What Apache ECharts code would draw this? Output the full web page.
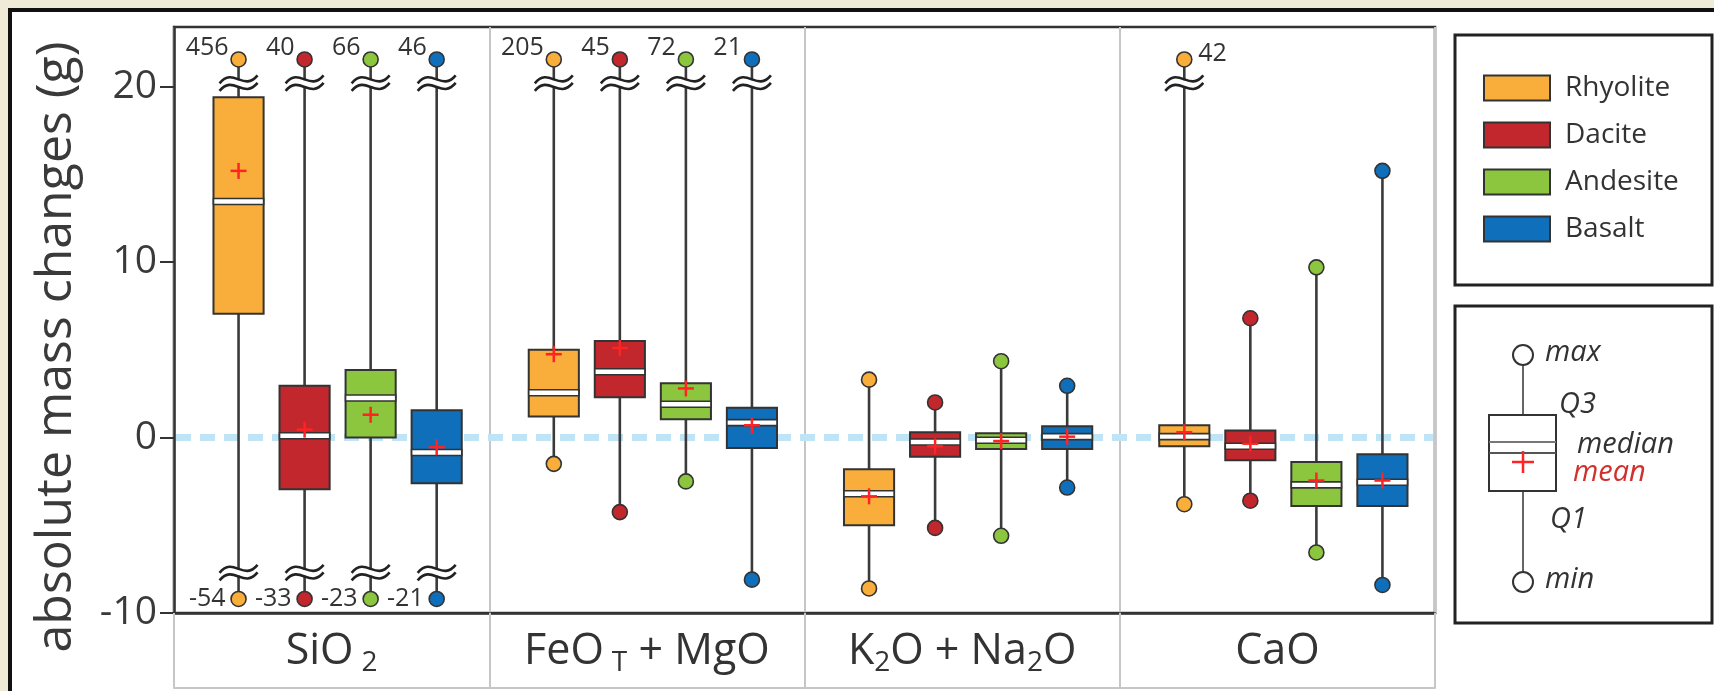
<!DOCTYPE html>
<html><head><meta charset="utf-8">
<script src="https://cdn.jsdelivr.net/npm/echarts@6/dist/echarts.min.js"></script>
<style>html,body{margin:0;padding:0;background:#fff}#c{width:1714px;height:691px}</style>
</head><body><div id="c"></div><script>
const FONT = "'Open Sans', 'DejaVu Sans', sans-serif";

// ---------- data ----------
const categories = ['SiO2', 'FeOT + MgO', 'K2O + Na2O', 'CaO'];
const categoryLabels = ['SiO{g|2}', 'FeO{g|T} + MgO', 'K{s|2}O + Na{s|2}O', 'CaO'];
const seriesNames = ['Rhyolite', 'Dacite', 'Andesite', 'Basalt'];
const yTickValues = [-10, 0, 10, 20];

// order of each array: SiO2, FeOT+MgO, K2O+Na2O, CaO
const rhyoliteMin    = [-54, -1.5, -8.6, -3.8];
const rhyoliteQ1     = [7.05, 1.2, -5.0, -0.5];
const rhyoliteMedian = [13.45, 2.55, -3.2, 0.05];
const rhyoliteQ3     = [19.4, 5.0, -1.8, 0.7];
const rhyoliteMax    = [456, 205, 3.3, 42];
const rhyoliteMean   = [15.2, 4.75, -3.35, 0.3];

const daciteMin    = [-33, -4.25, -5.15, -3.6];
const daciteQ1     = [-2.95, 2.3, -1.1, -1.3];
const daciteMedian = [0.1, 3.75, -0.25, -0.5];
const daciteQ3     = [2.95, 5.5, 0.3, 0.4];
const daciteMax    = [40, 45, 2.0, 6.8];
const daciteMean   = [0.45, 5.1, -0.5, -0.35];

const andesiteMin    = [-23, -2.5, -5.6, -6.55];
const andesiteQ1     = [0.0, 1.05, -0.65, -3.9];
const andesiteMedian = [2.25, 1.9, -0.15, -2.7];
const andesiteQ3     = [3.85, 3.1, 0.25, -1.4];
const andesiteMax    = [66, 72, 4.35, 9.7];
const andesiteMean   = [1.3, 2.8, -0.2, -2.45];

const basaltMin    = [-21, -8.1, -2.85, -8.4];
const basaltQ1     = [-2.6, -0.6, -0.65, -3.9];
const basaltMedian = [-0.85, 0.85, 0.05, -2.55];
const basaltQ3     = [1.55, 1.7, 0.65, -0.95];
const basaltMax    = [46, 21, 2.95, 15.2];
const basaltMean   = [-0.55, 0.7, 0.05, -2.45];

// ---------- styles ----------
const seriesColors = ['#f9ae3b', '#c1272d', '#8cc63f', '#0f6fba'];
const countLabelSide = ['left', 'left', 'left', 'right']; // per category, for off-scale max labels
const TOP_CUT = 20, BOT_CUT = -10;          // beyond these the axis is broken
const TOP_POS = 21.55, TOP_BREAK = 20.2;    // where off-scale max is drawn
const BOT_POS = -9.2, BOT_BREAK = -7.7;     // where off-scale min is drawn
const STEP_FRAC = 0.2095, SHIFT_FRAC = 0.019, BOX_FRAC = 0.159;
const INK = '#333';

const stats = [
  [rhyoliteMin, rhyoliteQ1, rhyoliteMedian, rhyoliteQ3, rhyoliteMax, rhyoliteMean],
  [daciteMin, daciteQ1, daciteMedian, daciteQ3, daciteMax, daciteMean],
  [andesiteMin, andesiteQ1, andesiteMedian, andesiteQ3, andesiteMax, andesiteMean],
  [basaltMin, basaltQ1, basaltMedian, basaltQ3, basaltMax, basaltMean]
];

function breakSymbol(x, y) {
  const wave = (dy) => ({
    type: 'bezierCurve',
    shape: { x1: -19, y1: dy + 4, x2: 19, y2: dy - 4, cpx1: -5, cpy1: dy - 13, cpx2: 5, cpy2: dy + 13 },
    style: { stroke: '#222', lineWidth: 2.6, fill: null }
  });
  return { type: 'group', x: x, y: y, children: [
    { type: 'rect', shape: { x: -4, y: -3, width: 8, height: 6 }, style: { fill: '#fff' } },
    wave(-3.8), wave(3.8)
  ]};
}

function makeRender(si) {
  const color = seriesColors[si];
  return function (params, api) {
    const ci = api.value(0);
    const vmin = api.value(1), q1 = api.value(2), med = api.value(3),
          q3 = api.value(4), vmax = api.value(5), mean = api.value(6);
    const band = api.size([1, 0])[0];
    const cx = api.coord([ci, 0])[0] + (si - 1.5) * STEP_FRAC * band + SHIFT_FRAC * band;
    const Y = v => api.coord([ci, v])[1];
    const bw = BOX_FRAC * band;
    const hiOff = vmax > TOP_CUT, loOff = vmin < BOT_CUT;
    const yMax = Y(hiOff ? TOP_POS : vmax), yMin = Y(loOff ? BOT_POS : vmin);
    const ch = [];
    ch.push({ type: 'line', shape: { x1: cx, y1: yMax, x2: cx, y2: yMin }, style: { stroke: '#3a3a3a', lineWidth: 2.6 } });
    if (hiOff) ch.push(breakSymbol(cx, Y(TOP_BREAK)));
    if (loOff) ch.push(breakSymbol(cx, Y(BOT_BREAK)));
    ch.push({ type: 'rect', shape: { x: cx - bw / 2, y: Y(q3), width: bw, height: Y(q1) - Y(q3) },
              style: { fill: color, stroke: INK, lineWidth: 2 } });
    ch.push({ type: 'rect', shape: { x: cx - bw / 2, y: Y(med) - 3, width: bw, height: 6 },
              style: { fill: '#fff', stroke: INK, lineWidth: 1.6 } });
    const my = Y(mean);
    ch.push({ type: 'line', shape: { x1: cx - 8, y1: my, x2: cx + 8, y2: my }, style: { stroke: '#ff2323', lineWidth: 2.5 } });
    ch.push({ type: 'line', shape: { x1: cx, y1: my - 8, x2: cx, y2: my + 8 }, style: { stroke: '#ff2323', lineWidth: 2.5 } });
    ch.push({ type: 'circle', shape: { cx: cx, cy: yMax, r: 7.5 }, style: { fill: color, stroke: INK, lineWidth: 1.6 } });
    ch.push({ type: 'circle', shape: { cx: cx, cy: yMin, r: 7.5 }, style: { fill: color, stroke: INK, lineWidth: 1.6 } });
    if (hiOff) {
      const right = countLabelSide[ci] === 'right';
      ch.push({ type: 'text', x: right ? cx + 14 : cx - 10, y: right ? yMax - 6 : yMax - 12,
        style: { text: String(vmax), fill: INK, fontSize: 25, fontFamily: FONT,
                 align: right ? 'left' : 'right', verticalAlign: 'middle' } });
    }
    if (loOff) {
      ch.push({ type: 'text', x: cx - 13, y: yMin,
        style: { text: String(vmin), fill: INK, fontSize: 25, fontFamily: FONT, align: 'right', verticalAlign: 'middle' } });
    }
    return { type: 'group', children: ch };
  };
}

const boxSeries = seriesNames.map((name, si) => ({
  type: 'custom', name: name, z: 3,
  itemStyle: { color: seriesColors[si] },
  encode: { x: 0, y: [1, 2, 3, 4, 5, 6] },
  renderItem: makeRender(si),
  data: categories.map((c, ci) => [ci].concat(stats[si].map(arr => arr[ci])))
}));

const zeroSeries = {
  type: 'custom', name: 'zero', z: 1, silent: true,
  data: [[0, 0]],
  encode: { x: 0, y: 1 },
  renderItem: function (params, api) {
    const cs = params.coordSys;
    const y = api.coord([0, api.value(1)])[1];
    return { type: 'line', shape: { x1: cs.x + 2, y1: y, x2: cs.x + cs.width - 2, y2: y },
             style: { stroke: '#bfe4f6', lineWidth: 7, lineDash: [15, 9] } };
  }
};

// ---------- decorative graphics (frames and box-plot key) ----------
const keyTxt = (t, x, y, fill) => ({ type: 'text', x: x, y: y,
  style: { text: t, fill: fill || INK, fontSize: 29, fontStyle: 'italic', fontFamily: FONT, verticalAlign: 'middle' } });
const graphics = [
  { type: 'rect', shape: { x: 0, y: 0, width: 1714, height: 8 }, style: { fill: '#efebd6' } },
  { type: 'rect', shape: { x: 0, y: 0, width: 8, height: 691 }, style: { fill: '#efebd6' } },
  { type: 'rect', shape: { x: 8, y: 8, width: 1706, height: 4 }, style: { fill: '#111' } },
  { type: 'rect', shape: { x: 8, y: 8, width: 4, height: 683 }, style: { fill: '#111' } },
  { type: 'rect', shape: { x: 1455, y: 35, width: 257, height: 250 }, style: { fill: null, stroke: '#222', lineWidth: 3 } },
  { type: 'rect', shape: { x: 1455, y: 306, width: 257, height: 317 }, style: { fill: null, stroke: '#222', lineWidth: 3 } },
  { type: 'line', shape: { x1: 1523, y1: 365, x2: 1523, y2: 415 }, style: { stroke: INK, lineWidth: 1.5 } },
  { type: 'line', shape: { x1: 1523, y1: 491, x2: 1523, y2: 572 }, style: { stroke: INK, lineWidth: 1.5 } },
  { type: 'circle', shape: { cx: 1523, cy: 355, r: 10 }, style: { fill: '#fff', stroke: INK, lineWidth: 2 } },
  { type: 'circle', shape: { cx: 1523, cy: 582, r: 10 }, style: { fill: '#fff', stroke: INK, lineWidth: 2 } },
  { type: 'rect', shape: { x: 1489, y: 415, width: 67, height: 76 }, style: { fill: '#fff', stroke: INK, lineWidth: 2 } },
  { type: 'line', shape: { x1: 1489, y1: 442, x2: 1556, y2: 442 }, style: { stroke: '#777', lineWidth: 2 } },
  { type: 'line', shape: { x1: 1489, y1: 453, x2: 1556, y2: 453 }, style: { stroke: '#555', lineWidth: 2 } },
  { type: 'line', shape: { x1: 1512, y1: 462, x2: 1534, y2: 462 }, style: { stroke: '#ff2323', lineWidth: 2.5 } },
  { type: 'line', shape: { x1: 1523, y1: 451, x2: 1523, y2: 473 }, style: { stroke: '#ff2323', lineWidth: 2.5 } },
  keyTxt('max', 1545, 353), keyTxt('Q3', 1559, 405), keyTxt('median', 1577, 445),
  keyTxt('mean', 1573, 473, '#d0312d'), keyTxt('Q1', 1550, 520), keyTxt('min', 1545, 580)
];

const option = {
  backgroundColor: '#fff',
  animation: false,
  textStyle: { fontFamily: FONT },
  grid: { left: 174, right: 279, top: 27, bottom: 78, show: true, borderColor: '#333', borderWidth: 2.5, backgroundColor: '#fff' },
  legend: {
    orient: 'vertical', left: 1483, top: 74, padding: 0, icon: 'rect',
    itemWidth: 66, itemHeight: 25, itemGap: 19,
    textStyle: { fontSize: 28, lineHeight: 26, color: INK, fontFamily: FONT, padding: [0, 0, 0, 10] },
    data: seriesNames.map((n, i) => ({ name: n, itemStyle: { color: seriesColors[i], borderColor: INK, borderWidth: 2 } }))
  },
  xAxis: [{
    type: 'category', data: categories, boundaryGap: true,
    axisLine: { show: true, onZero: false, lineStyle: { color: '#333', width: 2.5 } },
    axisTick: { show: true, interval: 0, length: 75, lineStyle: { color: '#c6c6c6', width: 2 } },
    splitLine: { show: true, interval: 0, lineStyle: { color: '#c6c6c6', width: 2 } },
    axisLabel: {
      interval: 0, margin: 14, fontSize: 43, lineHeight: 50, color: INK, fontFamily: FONT,
      formatter: (v, i) => categoryLabels[i],
      rich: {
        s: { fontSize: 28, lineHeight: 30, verticalAlign: 'bottom', color: INK, fontFamily: FONT },
        g: { fontSize: 28, lineHeight: 30, verticalAlign: 'bottom', color: INK, fontFamily: FONT, padding: [0, 0, 0, 8] }
      }
    }
  }, {
    type: 'category', data: categories, position: 'bottom', offset: 75,
    axisLine: { show: true, onZero: false, lineStyle: { color: '#c6c6c6', width: 2 } },
    axisTick: { show: false }, axisLabel: { show: false }, splitLine: { show: false }
  }],
  yAxis: {
    type: 'value', min: -10, max: 23.4, interval: 10,
    name: 'absolute mass changes (g)', nameLocation: 'middle', nameGap: 92, nameRotate: 90,
    nameTextStyle: { fontSize: 50, color: '#3a3a3a', fontFamily: FONT, padding: [0, 54, 0, 0] },
    axisLine: { show: true, onZero: false, lineStyle: { color: '#333', width: 2.5 } },
    axisTick: { show: true, length: 14, lineStyle: { color: '#333', width: 2 }, customValues: yTickValues },
    axisLabel: { fontSize: 39, color: '#3a3a3a', margin: 17, fontFamily: FONT, customValues: yTickValues },
    splitLine: { show: false }
  },
  graphic: graphics,
  series: [zeroSeries].concat(boxSeries)
};

const chart = echarts.init(document.getElementById('c'), null, { renderer: 'canvas' });
chart.setOption(option);
</script></body></html>
